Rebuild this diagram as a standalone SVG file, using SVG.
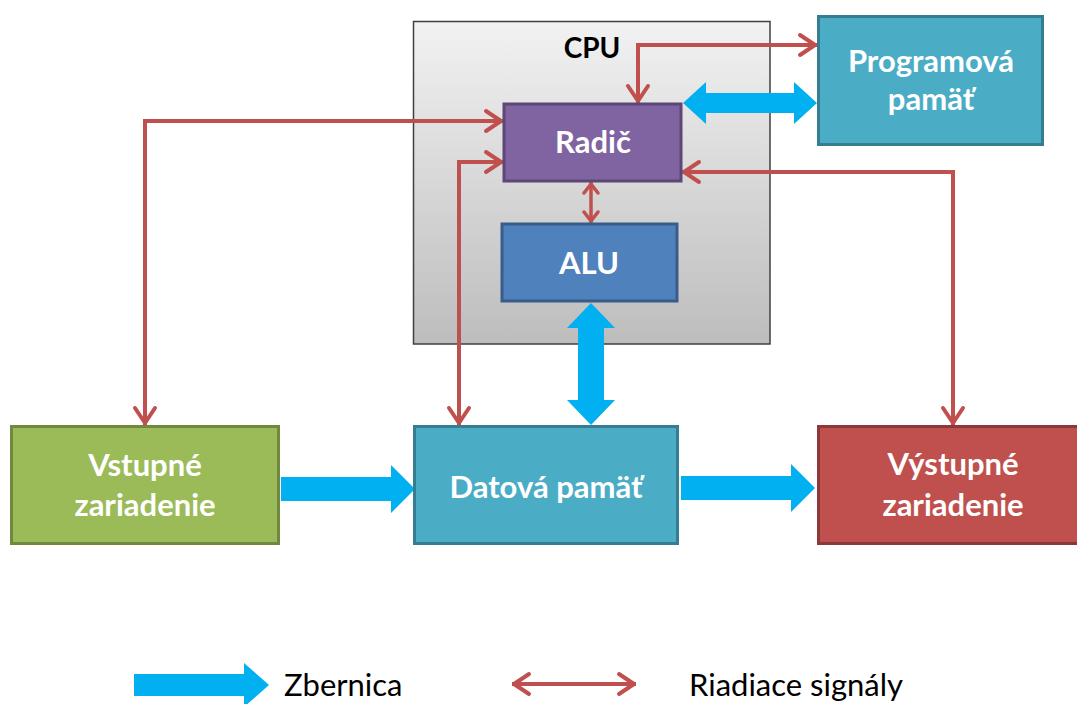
<svg xmlns="http://www.w3.org/2000/svg" width="1077" height="704" viewBox="0 0 1077 704">
<defs>
<linearGradient id="cpuGrad" x1="0" y1="0" x2="0" y2="1">
<stop offset="0" stop-color="#F2F2F2"/>
<stop offset="1" stop-color="#BDBDBD"/>
</linearGradient>
<marker id="chev" markerUnits="userSpaceOnUse" markerWidth="30" markerHeight="30" refX="0" refY="0" viewBox="-25 -15 30 30" orient="auto-start-reverse" overflow="visible">
<path d="M-17,-10 L-2,0 L-17,10" fill="none" stroke="#C0504D" stroke-width="4" stroke-linejoin="round" stroke-linecap="round"/>
</marker>
<marker id="chevS" markerUnits="userSpaceOnUse" markerWidth="20" markerHeight="20" refX="0" refY="0" viewBox="-15 -10 20 20" orient="auto-start-reverse" overflow="visible">
<path d="M-11,-7 L-2,0 L-11,7" fill="none" stroke="#C0504D" stroke-width="3.5" stroke-linejoin="round" stroke-linecap="round"/>
</marker>
<style>
.node{stroke-width:3}
.lbl{font-family:Lato,"Open Sans","Liberation Sans",sans-serif;font-weight:bold;font-size:31px;fill:#FFFFFF;text-anchor:middle}
.sig{fill:none;stroke:#C0504D;stroke-width:4;marker-start:url(#chev);marker-end:url(#chev)}
.sigS{fill:none;stroke:#C0504D;stroke-width:3.5;marker-start:url(#chevS);marker-end:url(#chevS)}
.bus{fill:#00B0F0}
.leg{font-family:Lato,"Open Sans","Liberation Sans",sans-serif;font-size:31px;fill:#000000}
</style>
</defs>
<rect width="1077" height="704" fill="#FFFFFF"/>
<g id="cpu">
<rect x="413.5" y="21.5" width="356.5" height="322.5" fill="url(#cpuGrad)" stroke="#404040" stroke-width="1.5"/>
<text x="592" y="58" font-family="Lato,'Open Sans','Liberation Sans',sans-serif" font-weight="bold" font-size="28" fill="#000000" text-anchor="middle">CPU</text>
</g>
<g id="connectors">
<path class="sig" d="M638,103 V45 H817"/>
<path class="sig" d="M503,121 H145 V425"/>
<path class="sig" d="M503,162 H459 V425"/>
<path class="sigS" d="M591,182 V223"/>
<path class="sig" d="M682,172 H953 V425"/>
<polygon class="bus" points="683,103 706,82 706,93 794,93 794,82 817,103 794,124 794,113 706,113 706,124"/>
<polygon class="bus" points="591,303 615,328 604,328 604,400 615,400 591,425 567,400 578,400 578,328 567,328"/>
<polygon class="bus" points="281,477 391,477 391,465 415,489 391,513 391,501 281,501"/>
<polygon class="bus" points="681,476 791,476 791,464 815,488 791,512 791,500 681,500"/>
</g>
<g id="radic">
<rect class="node" x="504" y="104" width="177" height="77" fill="#8064A2" stroke="#5C4776"/>
<text class="lbl" x="593" y="153">Radič</text>
</g>
<g id="alu">
<rect class="node" x="502" y="224" width="175" height="77" fill="#4F81BD" stroke="#385D8A"/>
<text class="lbl" x="589" y="274">ALU</text>
</g>
<g id="programova">
<rect class="node" x="818.5" y="16.5" width="224" height="128" fill="#4BACC6" stroke="#357D91"/>
<text class="lbl" x="931" y="72">Programová</text>
<text class="lbl" x="931" y="110">pamäť</text>
</g>
<g id="datova">
<rect class="node" x="414.5" y="426.5" width="263" height="117" fill="#4BACC6" stroke="#357D91"/>
<text class="lbl" x="546" y="498">Datová pamäť</text>
</g>
<g id="vstupne">
<rect class="node" x="11.5" y="426.5" width="267" height="117" fill="#9BBB59" stroke="#71893F"/>
<text class="lbl" x="145" y="476">Vstupné</text>
<text class="lbl" x="145" y="516">zariadenie</text>
</g>
<g id="vystupne">
<rect class="node" x="818.5" y="426.5" width="270" height="117" fill="#C0504D" stroke="#8C3836"/>
<text class="lbl" x="953" y="475">Výstupné</text>
<text class="lbl" x="953" y="516">zariadenie</text>
</g>
<g id="legend">
<polygon class="bus" points="134,674 244,674 244,663 269,685 244,707 244,696 134,696"/>
<text class="leg" x="284" y="696">Zbernica</text>
<path class="sig" d="M512,684 H636"/>
<text class="leg" x="689" y="696">Riadiace signály</text>
</g>
</svg>
